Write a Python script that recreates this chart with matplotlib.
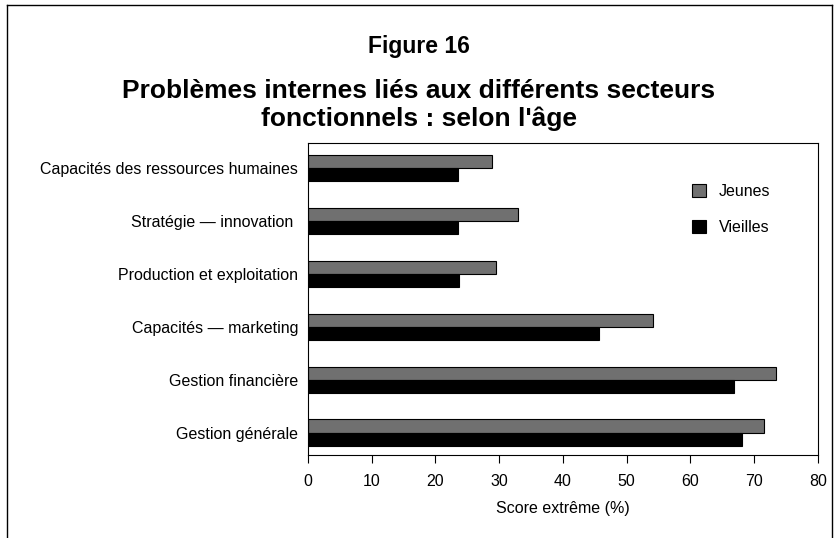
import matplotlib
matplotlib.use("Agg")
import matplotlib.pyplot as plt
from matplotlib.lines import Line2D

categories = ["Capacités des ressources humaines", "Stratégie — innovation ",
              "Production et exploitation", "Capacités — marketing",
              "Gestion financière", "Gestion générale"]
jeunes = [28.8, 33.0, 29.5, 54.1, 73.4, 71.5]
vieilles = [23.5, 23.5, 23.7, 45.6, 66.8, 68.1]
xticks = [0, 10, 20, 30, 40, 50, 60, 70, 80]

font = 'Liberation Sans'

fig = plt.figure(figsize=(8.38, 5.38), dpi=100)
ax = fig.add_axes([0.3675, 0.1543, 0.6086, 0.580])

n = len(categories)
ypos = [n - 1 - i for i in range(n)]
h = 0.25
ax.barh([y + h / 2 for y in ypos], jeunes, height=h, color='#707070',
        edgecolor='black', linewidth=0.8, label='Jeunes')
ax.barh([y - h / 2 for y in ypos], vieilles, height=h, color='black',
        edgecolor='black', linewidth=0.8, label='Vieilles')

ax.set_xlim(0, 80)
ax.set_ylim(-0.42, n - 1 + 0.47)
ax.set_xticks(xticks)
ax.set_xticklabels([str(t) for t in xticks], family=font, fontsize=11.5)
ax.set_yticks(ypos)
ax.set_yticklabels(categories, family=font, fontsize=11.5)
ax.tick_params(axis='y', length=0, pad=7)
ax.tick_params(axis='x', direction='out', length=6, width=0.8, pad=8)
for s in ax.spines.values():
    s.set_linewidth(0.8)
ax.set_xlabel("Score extrême (%)", family=font, fontsize=11.5, labelpad=8)

leg = ax.legend(loc='upper right', bbox_to_anchor=(0.935, 0.915), frameon=False,
                prop={'family': font, 'size': 11.5}, handlelength=0.9,
                handleheight=0.9, handletextpad=0.8, labelspacing=1.3)

fig.text(0.5, 1 - 47 / 538, "Figure 16", ha='center', va='center',
         fontsize=16.5, fontweight='bold', family=font)
fig.text(0.5, 1 - 105 / 538, "Problèmes internes liés aux différents secteurs\nfonctionnels : selon l'âge",
         ha='center', va='center', fontsize=19, fontweight='bold',
         family=font, linespacing=1.15)

# figure border
x0, x1, y0 = 7 / 838, 832 / 838, 1 - 5 / 538
fig.add_artist(Line2D([x0, x0], [0, y0], color='black', lw=1.0, transform=fig.transFigure))
fig.add_artist(Line2D([x0, x1], [y0, y0], color='black', lw=1.0, transform=fig.transFigure))
fig.add_artist(Line2D([x1, x1], [0, y0], color='black', lw=1.0, transform=fig.transFigure))

fig.savefig("out.png", dpi=100)
